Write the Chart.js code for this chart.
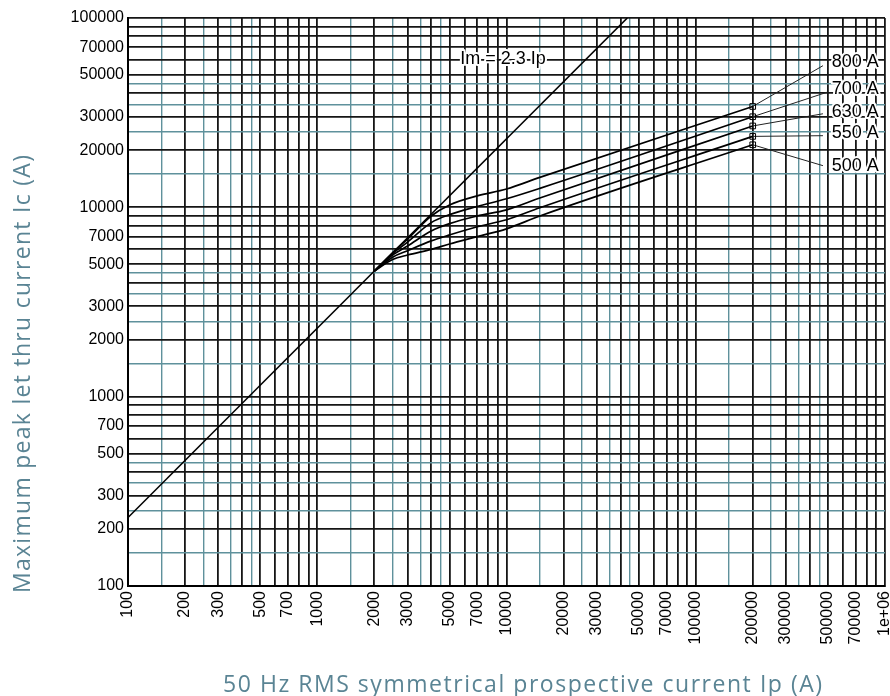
<!DOCTYPE html>
<html>
<head>
<meta charset="utf-8">
<script src="https://cdn.jsdelivr.net/npm/chart.js@4.4.1/dist/chart.umd.min.js"></script>
<style>
  html, body { margin: 0; padding: 0; background: #fff; }
  #wrap { width: 890px; height: 696px; }
</style>
</head>
<body>
<div id="wrap"><canvas id="myChart" width="890" height="696"></canvas></div>
<script>
// prospective current Ip (A), x values
var ipPoints = [2000, 2500, 3000, 4000, 5000, 7000, 10000, 15000, 200000];

// peak let-thru current Ic (A) for each fuse rating
var ic500 = [4600, 5300, 5600, 6000, 6400, 7000, 7700, 9000, 21400];
var ic550 = [4600, 5450, 5900, 6650, 7150, 7900, 8600, 9950, 23700];
var ic630 = [4600, 5600, 6250, 7500, 8200, 9000, 9700, 11200, 26900];
var ic700 = [4600, 5700, 6550, 8300, 9150, 10100, 11100, 12600, 30100];
var ic800 = [4600, 5750, 6800, 9000, 10300, 11500, 12500, 14400, 34100];

// Im = 2.3 Ip line
var limitIp = [100, 43478];
var limitIc = [230, 100000];

// leader line ends and rating labels
var ratingNames = ['800 A', '700 A', '630 A', '550 A', '500 A'];
var leaderIp = [470000, 500000, 470000, 470000, 470000];
var leaderIc = [56000, 40700, 31200, 23900, 16600];
var labelIp = 523000;
var labelIc = [58200, 42300, 32000, 24800, 16600];

// tick labels
var xTickLabels = [100, 200, 300, 500, 700, 1000, 2000, 3000, 5000, 7000, 10000, 20000, 30000, 50000, 70000, 100000, 200000, 300000, 500000, 700000, 1000000];
var yTickLabels = [100, 200, 300, 500, 700, 1000, 2000, 3000, 5000, 7000, 10000, 20000, 30000, 50000, 70000, 100000];

// grid: black lines at whole multiples, teal at the halves
var blackSteps = [1, 2, 3, 4, 5, 6, 7, 8, 9];
var tealSteps = [1.5, 2.5, 3.5, 4.5];

var BLACK = '#161616';
var TEAL = '#5f919c';

function gridValues(min, max) {
  var out = [];
  var steps = blackSteps.concat(tealSteps).sort(function (a, b) { return a - b; });
  for (var d = min; d < max; d *= 10) {
    steps.forEach(function (s) { out.push({ value: Math.round(s * d) }); });
  }
  out.push({ value: max });
  return out;
}

function isTeal(v) {
  var m = v / Math.pow(10, Math.floor(Math.log10(v) + 1e-9));
  m = Math.round(m * 10) / 10;
  return tealSteps.indexOf(m) >= 0;
}

function pts(xs, ys) {
  return xs.map(function (x, i) { return { x: x, y: ys[i] }; });
}

function curve(ys) {
  return {
    data: pts(ipPoints, ys),
    borderColor: '#000',
    borderWidth: 1.7,
    cubicInterpolationMode: 'monotone',
    pointStyle: 'rect',
    pointRadius: function (c) { return c.dataIndex === ipPoints.length - 1 ? 4 : 0; },
    pointBorderColor: '#000',
    pointBorderWidth: 1,
    pointBackgroundColor: 'rgba(255,255,255,0)'
  };
}

var endIc = [ic800, ic700, ic630, ic550, ic500].map(function (a) { return a[a.length - 1]; });

var datasets = [
  {
    data: pts(limitIp, limitIc),
    borderColor: '#000',
    borderWidth: 1.6,
    pointRadius: 0
  },
  curve(ic500), curve(ic550), curve(ic630), curve(ic700), curve(ic800)
];

ratingNames.forEach(function (n, i) {
  datasets.push({
    data: [{ x: 200000, y: endIc[i] }, { x: leaderIp[i], y: leaderIc[i] }],
    borderColor: '#222',
    borderWidth: 1,
    pointRadius: 0
  });
});

function fmt(v) {
  return v === 1000000 ? '1e+06' : String(v);
}

// draw text stretched to a given width with letter spacing
function spacedText(ctx, text, x, y, width) {
  ctx.letterSpacing = '0px';
  var w = ctx.measureText(text).width;
  var sp = (width - w) / (text.length - 1);
  ctx.letterSpacing = sp.toFixed(2) + 'px';
  ctx.fillText(text, x, y);
  ctx.letterSpacing = '0px';
}

var textPlugin = {
  id: 'textPlugin',
  afterDatasetsDraw: function (chart) {
    var ctx = chart.ctx;
    var xs = chart.scales.x, ys = chart.scales.y;
    ctx.save();
    ctx.font = '18px "Liberation Sans", Arial, sans-serif';
    ctx.textBaseline = 'middle';
    ctx.textAlign = 'left';
    ctx.lineJoin = 'round';
    function halo(t, x, y) {
      ctx.strokeStyle = '#fff';
      ctx.lineWidth = 4;
      ctx.strokeText(t, x, y);
      ctx.fillStyle = '#000';
      ctx.fillText(t, x, y);
    }
    ratingNames.forEach(function (n, i) {
      halo(n, xs.getPixelForValue(labelIp), ys.getPixelForValue(labelIc[i]));
    });
    halo('Im = 2.3 Ip', xs.getPixelForValue(5700), ys.getPixelForValue(60500));
    ctx.restore();
  },
  afterDraw: function (chart) {
    var ctx = chart.ctx;
    var area = chart.chartArea;
    ctx.save();
    ctx.fillStyle = '#5a8494';
    ctx.font = '400 23px "Open Sans", sans-serif';
    ctx.textBaseline = 'alphabetic';
    ctx.textAlign = 'left';
    spacedText(ctx, '50 Hz RMS symmetrical prospective current Ip (A)', area.left + 95, 692, 599);
    ctx.translate(30, area.bottom + 7);
    ctx.rotate(-Math.PI / 2);
    spacedText(ctx, 'Maximum peak let thru current Ic (A)', 0, 0, 438);
    ctx.restore();
  }
};

var ctx = document.getElementById('myChart').getContext('2d');

var myChart = new Chart(ctx, {
  type: 'line',
  data: { datasets: datasets },
  options: {
    responsive: false,
    animation: false,
    layout: { padding: { left: 0, right: 5, top: 18, bottom: 0 } },
    plugins: { legend: { display: false }, tooltip: { enabled: false } },
    scales: {
      x: {
        type: 'logarithmic',
        min: 100,
        max: 1000000,
        afterBuildTicks: function (s) { s.ticks = gridValues(100, 1000000); },
        afterFit: function (s) { s.height = 110; s.paddingLeft = 0; s.paddingRight = 0; },
        ticks: {
          autoSkip: false,
          minRotation: 90,
          maxRotation: 90,
          padding: 5,
          color: '#000',
          font: { family: '"Liberation Sans", Arial, sans-serif', size: 16 },
          callback: function (v) { return xTickLabels.indexOf(v) >= 0 ? fmt(v) : ''; }
        },
        grid: {
          drawTicks: false,
          color: function (c) { return isTeal(c.tick.value) ? TEAL : BLACK; },
          lineWidth: function (c) { return isTeal(c.tick.value) ? 1.4 : 1.8; }
        },
        border: { color: '#000', width: 2 }
      },
      y: {
        type: 'logarithmic',
        min: 100,
        max: 100000,
        afterBuildTicks: function (s) { s.ticks = gridValues(100, 100000); },
        afterFit: function (s) { s.width = 128; s.paddingTop = 0; s.paddingBottom = 0; },
        ticks: {
          autoSkip: false,
          padding: 4,
          color: '#000',
          font: { family: '"Liberation Sans", Arial, sans-serif', size: 16 },
          callback: function (v) { return yTickLabels.indexOf(v) >= 0 ? String(v) : ''; }
        },
        grid: {
          drawTicks: false,
          color: function (c) { return isTeal(c.tick.value) ? TEAL : BLACK; },
          lineWidth: function (c) { return isTeal(c.tick.value) ? 1.4 : 1.8; }
        },
        border: { color: '#000', width: 2 }
      }
    }
  },
  plugins: [textPlugin]
});
</script>
</body>
</html>
